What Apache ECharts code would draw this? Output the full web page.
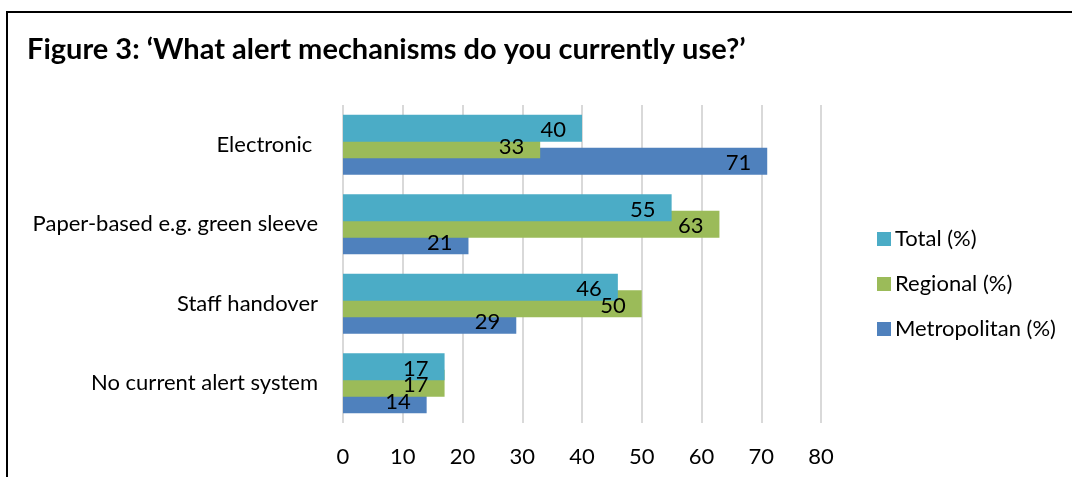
<!DOCTYPE html>
<html><head><meta charset="utf-8">
<script src="https://cdn.jsdelivr.net/npm/echarts@6/dist/echarts.min.js"></script>
<style>html,body{margin:0;padding:0;background:#fff}#c{width:1072px;height:477px}</style>
</head><body><div id="c"></div>
<script>
const categories = ['Electronic ', 'Paper-based e.g. green sleeve', 'Staff handover', 'No current alert system'];
const seriesNames = ['Total (%)', 'Regional (%)', 'Metropolitan (%)'];
const totalVals = [40, 55, 46, 17];
const regionalVals = [33, 63, 50, 17];
const metroVals = [71, 21, 29, 14];
const xTicks = [0, 10, 20, 30, 40, 50, 60, 70, 80];
const titleText = 'Figure 3: \u2018What alert mechanisms do you currently use?\u2019';

const FONT = 'Lato';
const FS = 22;
const rev = a => a.slice().reverse();
const label = {show: true, position: 'insideRight', distance: 16, offset: [0, 2], color: '#000', fontSize: FS, fontFamily: FONT};
function bars(name, data, color, z) {
  return {name: name, type: 'bar', data: rev(data), barWidth: 27, barGap: '-39%', z: z,
    yAxisIndex: 0, itemStyle: {color: color}, label: {show: false}, emphasis: {disabled: true}};
}
function labels(name, data) {
  return {name: name, type: 'bar', data: rev(data), barWidth: 27, barGap: '-39%', z: 10,
    yAxisIndex: 1, itemStyle: {color: 'rgba(0,0,0,0)'}, label: label, emphasis: {disabled: true}, silent: true};
}
const yCommon = {type: 'category', data: rev(categories), axisLine: {show: false}, axisTick: {show: false}};
const chart = echarts.init(document.getElementById('c'), null, {renderer: 'canvas'});
chart.setOption({
  animation: false,
  graphic: [{type: 'rect', shape: {x: 7, y: 12, width: 1200, height: 600},
    style: {fill: 'none', stroke: '#000', lineWidth: 2}, silent: true}],
  title: {text: titleText, left: 22, top: 30,
    textStyle: {fontFamily: FONT, fontWeight: 'bold', fontSize: 29, color: '#000'}},
  legend: {orient: 'vertical', left: 872, top: 222, itemWidth: 14, itemHeight: 14, itemGap: 21,
    icon: 'rect', data: seriesNames,
    textStyle: {fontFamily: FONT, fontSize: FS, color: '#000', lineHeight: 24, padding: [0, 0, 0, -1]}},
  grid: {left: 343, right: 251, top: 105, bottom: 54, containLabel: false},
  xAxis: {type: 'value', min: 0, max: 80, interval: 10,
    axisLine: {show: false}, axisTick: {show: false},
    axisLabel: {fontFamily: FONT, fontSize: FS, color: '#000', margin: 23,
      formatter: v => xTicks.includes(v) ? String(v) : ''},
    splitLine: {show: true, lineStyle: {color: '#D9D9D9', width: 2}}},
  yAxis: [
    Object.assign({}, yCommon, {axisLabel: {fontFamily: FONT, fontSize: FS, color: '#000', margin: 25}}),
    Object.assign({}, yCommon, {position: 'left', axisLabel: {show: false}, splitLine: {show: false}})
  ],
  series: [
    bars(seriesNames[0], totalVals, '#4BACC6', 4),
    bars(seriesNames[1], regionalVals, '#9BBB59', 3),
    bars(seriesNames[2], metroVals, '#4F81BD', 2),
    labels('lbl-total', totalVals),
    labels('lbl-regional', regionalVals),
    labels('lbl-metro', metroVals)
  ]
});
</script></body></html>
